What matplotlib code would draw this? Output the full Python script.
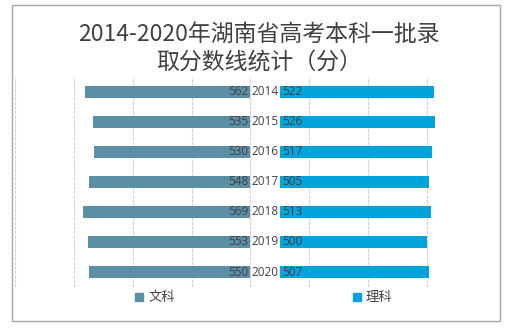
import matplotlib
matplotlib.use("Agg")
import matplotlib.pyplot as plt
import matplotlib.patches as mpatches
import numpy as np

plt.rcParams['font.family'] = ['Noto Sans CJK SC', 'DejaVu Sans']

years = ['2014', '2015', '2016', '2017', '2018', '2019', '2020']
wenke = [562, 535, 530, 548, 569, 553, 550]
like = [522, 526, 517, 505, 513, 500, 507]
gap = 100  # space in the middle for the year labels

c_wen = '#5b8fa6'
c_li = '#00a3da'
c_txt = '#404040'

fig = plt.figure(figsize=(5.15, 3.30), dpi=100)
ax = fig.add_axes([0.0291, 0.1303, 0.9146, 0.6364])

y = np.arange(len(years))
ax.barh(y, [-v for v in wenke], height=0.4, color=c_wen, zorder=2, label='文科')
ax.barh(y, like, left=gap, height=0.4, color=c_li, zorder=2, label='理科')

for i in range(len(years)):
    ax.text(-8, y[i], str(wenke[i]), ha='right', va='center', fontsize=8.5,
            color=c_txt, family=['Open Sans', 'DejaVu Sans'], zorder=3)
    ax.text(gap + 8, y[i], str(like[i]), ha='left', va='center', fontsize=8.5,
            color=c_txt, family=['Open Sans', 'DejaVu Sans'], zorder=3)
    ax.text(gap / 2, y[i], years[i], ha='center', va='center', fontsize=8.5,
            color=c_txt, family=['Open Sans', 'DejaVu Sans'], zorder=3)

ax.set_xlim(-800, 800)
ax.set_ylim(len(years) - 0.5, -0.5)
ax.set_xticks(np.arange(-800, 801, 200))
ax.set_yticks([])
ax.tick_params(axis='x', length=0, labelbottom=False)
ax.grid(axis='x', color='#d0d0d0', linewidth=0.8, linestyle=(0, (3, 1)), zorder=0)
for s in ax.spines.values():
    s.set_visible(False)

fig.text(0.503, 0.853, '2014-2020年湖南省高考本科一批录\n取分数线统计（分）',
         ha='center', va='center', fontsize=16.5, color=c_txt, linespacing=1.35,
         fontweight='medium')

h1 = mpatches.Patch(color=c_wen, label='文科')
h2 = mpatches.Patch(color=c_li, label='理科')
fig.legend(handles=[h1, h2], loc='center', bbox_to_anchor=(0.512, 0.097), ncol=2,
           frameon=False, fontsize=9.5, handlelength=0.6, handleheight=0.6,
           handletextpad=0.4, columnspacing=13.5, labelcolor=c_txt)

border = mpatches.Rectangle((12 / 515, 1 - 321 / 330), (500 - 12) / 515, (321 - 5) / 330,
                            transform=fig.transFigure, fill=False,
                            edgecolor='#a6a6a6', linewidth=1)
fig.patches.append(border)

fig.savefig('out.png', dpi=100)
